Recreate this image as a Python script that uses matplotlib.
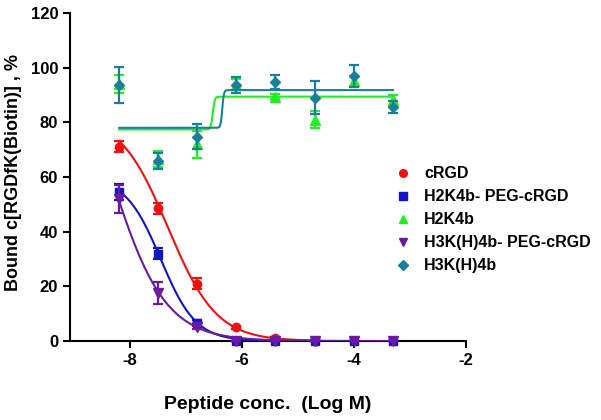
import numpy as np
import matplotlib
matplotlib.use('Agg')
import matplotlib.pyplot as plt

plt.rcParams['font.family'] = ['Liberation Sans', 'DejaVu Sans']
plt.rcParams['font.weight'] = 'bold'
plt.rcParams['axes.unicode_minus'] = False

# log concentrations (M)
log_conc = [-8.19, -7.49, -6.80, -6.10, -5.40, -4.70, -4.00, -3.30]

# bound %, mean and error per peptide
crgd_y = [71, 48.5, 21, 5, 1, 0]
crgd_err = [2, 2, 2, 0.5, 0.3, 0]
h2k4b_peg_y = [54.5, 32, 6.7, 0, 0, 0, 0, 0]
h2k4b_peg_err = [3, 2, 1, 0, 0, 0, 0, 0]
h2k4b_y = [94, 66.5, 72, 93.7, 89.4, 81, 95, 88]
h2k4b_err = [3.3, 3, 5, 2, 1, 3, 2, 2]
h3kh4b_peg_y = [52, 17.5, 5, 0, 0, 0, 0, 0]
h3kh4b_peg_err = [5, 4, 0.5, 0, 0, 0, 0, 0]
h3kh4b_y = [93.7, 65.9, 74.8, 93.7, 94.8, 89, 97, 85.5]
h3kh4b_err = [6.5, 2.8, 4.5, 3, 2.5, 6, 4, 2.2]

# fitted 4PL params: bottom, top, logEC50, hill
crgd_fit = (0, 83, -7.32, -1.0)
h2k4b_peg_fit = (0, 60, -7.45, -1.38)
h2k4b_fit = (77.4, 89.4, -6.52, 25)
h3kh4b_peg_fit = (0, 129, -8.40, -0.873)
h3kh4b_fit = (78.0, 91.8, -6.35, 30)

labels = ['cRGD', 'H2K4b- PEG-cRGD', 'H2K4b', 'H3K(H)4b- PEG-cRGD', 'H3K(H)4b']
colors = ['#ee1111', '#1414c4', '#22ee22', '#6a1aa0', '#1a7f99']
markers = ['o', 's', '^', 'v', 'D']
sizes = [6, 6, 6.5, 6.5, 5.5]


def fourpl(x, p):
    bottom, top, ec50, hill = p
    return bottom + (top - bottom) / (1 + 10 ** ((ec50 - x) * hill))


fig = plt.figure(figsize=(6.01, 4.2), dpi=100)
ax = fig.add_axes([0.1165, 0.188, 0.6585, 0.781])

series = [
    (log_conc[:6], crgd_y, crgd_err, crgd_fit, -4.6),
    (log_conc, h2k4b_peg_y, h2k4b_peg_err, h2k4b_peg_fit, -3.3),
    (log_conc, h2k4b_y, h2k4b_err, h2k4b_fit, -3.3),
    (log_conc, h3kh4b_peg_y, h3kh4b_peg_err, h3kh4b_peg_fit, -3.3),
    (log_conc, h3kh4b_y, h3kh4b_err, h3kh4b_fit, -3.3),
]

for i, (x, y, err, fit, xend) in enumerate(series):
    xs = np.linspace(log_conc[0], xend, 400)
    ax.plot(xs, fourpl(xs, fit), color=colors[i], lw=1.5, zorder=2 + i)
    ax.errorbar(x, y, yerr=err, fmt=markers[i], color=colors[i], ms=sizes[i],
                elinewidth=1.6, capsize=3.5, capthick=1.6, zorder=3 + i, clip_on=False)
    ax.plot([], [], markers[i], color=colors[i], ms=5.5, label=labels[i])

ax.set_xlim(-9.07, -2)
ax.set_ylim(0, 120)
ax.set_xticks([-8, -6, -4, -2])
ax.set_yticks([0, 20, 40, 60, 80, 100, 120])
ax.spines['top'].set_visible(False)
ax.spines['right'].set_visible(False)
ax.spines['left'].set_linewidth(1.5)
ax.spines['bottom'].set_linewidth(1.5)
ax.tick_params(direction='out', length=5, width=1.5, labelsize=12)
for t in ax.get_xticklabels() + ax.get_yticklabels():
    t.set_fontweight('bold')

ax.set_xlabel('Peptide conc.  (Log M)', fontsize=14, fontweight='bold', labelpad=20)
ax.set_ylabel('Bound c[RGDfK(Biotin)] , %', fontsize=13, fontweight='bold')
ax.yaxis.set_label_coords(-0.121, 0.515)

leg = ax.legend(loc='center left', bbox_to_anchor=(0.80, 0.37), frameon=False,
                fontsize=11.5, handletextpad=0.75, labelspacing=0.5,
                handlelength=1.2, borderaxespad=0)
for t in leg.get_texts():
    t.set_fontweight('bold')

fig.savefig('out.png', dpi=100)
